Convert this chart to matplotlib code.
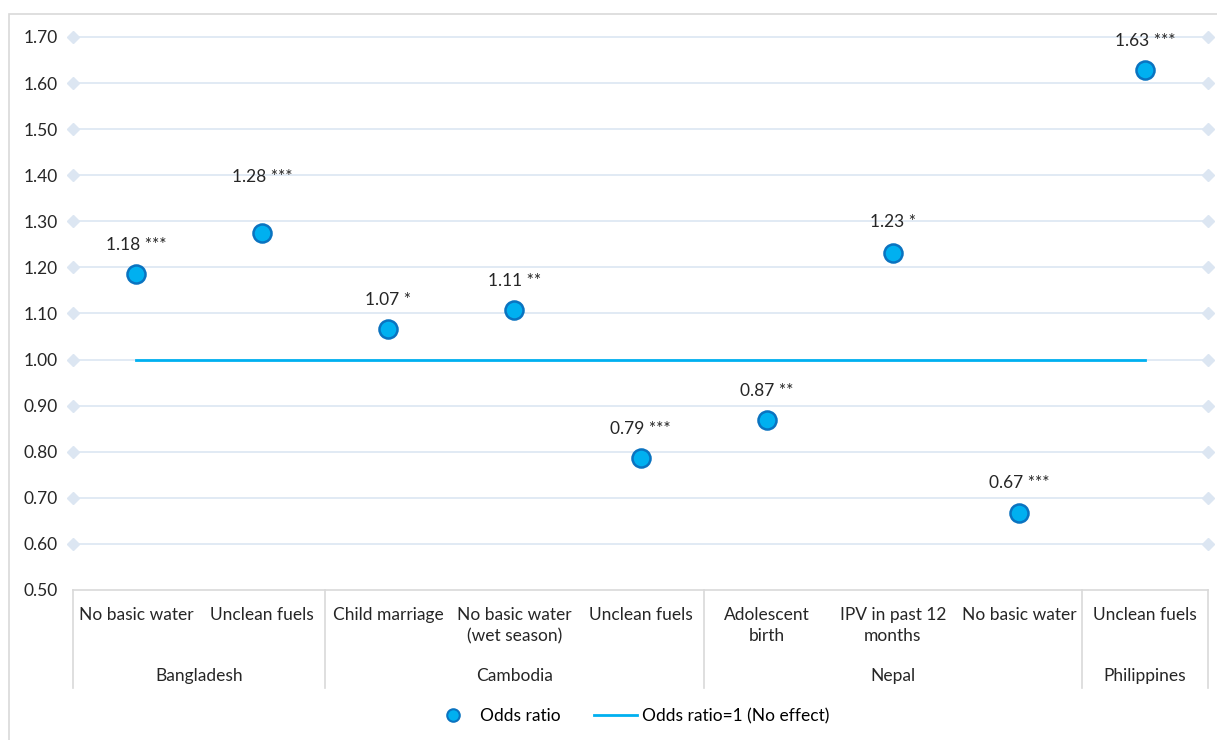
import numpy as np
import matplotlib.pyplot as plt
from matplotlib.patches import Rectangle
from matplotlib.lines import Line2D

plt.rcParams['font.family'] = ['Lato', 'DejaVu Sans']

indicators = [['No basic water'], ['Unclean fuels'],
              ['Child marriage'], ['No basic water', '(wet season)'], ['Unclean fuels'],
              ['Adolescent', 'birth'], ['IPV in past 12', 'months'], ['No basic water'],
              ['Unclean fuels']]
countries = ['Bangladesh', 'Cambodia', 'Nepal', 'Philippines']
country_sizes = [2, 3, 3, 1]
odds = [1.185, 1.275, 1.067, 1.107, 0.787, 0.869, 1.232, 0.668, 1.628]
labels = ['1.18 ***', '1.28 ***', '1.07 *', '1.11 **', '0.79 ***',
          '0.87 **', '1.23 *', '0.67 ***', '1.63 ***']
yticks = [0.5, 0.6, 0.7, 0.8, 0.9, 1.0, 1.1, 1.2, 1.3, 1.4, 1.5, 1.6, 1.7]

fig = plt.figure(figsize=(12.17, 7.40), dpi=100)
ax = fig.add_axes([73/1217, 1-590/740, (1208-73)/1217, (590-37)/740])

x = np.arange(len(odds))
ax.set_xlim(-0.5, len(odds) - 0.5)
ax.set_ylim(0.5, 1.7)

grid_c = '#DCE6F2'
for v in yticks[1:]:
    ax.plot([-0.5, len(odds) - 0.5], [v, v], color=grid_c, lw=1.2, marker='D',
            markersize=6, markevery=[0, 1], clip_on=False, zorder=1)

ax.plot([x[0], x[-1]], [1, 1], color='#00B0F0', lw=2, zorder=2)
ax.plot(x, odds, 'o', ms=13, mfc='#00B0F0', mec='#0A73C0', mew=1.8, zorder=3)
# label 1.28 sits higher in the original
offsets = [21, 40, 21, 21, 21, 21, 22, 21, 21]
for xi, v, t, off in zip(x, odds, labels, offsets):
    ax.annotate(t, (xi, v), xytext=(0, off), textcoords='offset points',
                ha='center', va='center', fontsize=12.5, color='#262626')

ax.set_yticks(yticks)
ax.set_yticklabels(['%.2f' % v for v in yticks], fontsize=12.5, color='#262626')
ax.tick_params(axis='y', length=0, pad=11)
ax.set_xticks([])
for s in ax.spines.values():
    s.set_visible(False)

# category table below the axis
tr = ax.get_xaxis_transform()
box_c = '#D9D9D9'
ax.plot([-0.5, len(odds) - 0.5], [0, 0], color=box_c, lw=1.2, transform=tr, clip_on=False)
edges = np.concatenate([[0], np.cumsum(country_sizes)]) - 0.5
for e in edges:
    ax.plot([e, e], [0, -0.177], color=box_c, lw=1.2, transform=tr, clip_on=False)
for xi, lines in zip(x, indicators):
    ax.text(xi, -0.030, '\n'.join(lines), transform=tr, ha='center', va='top',
            fontsize=12.5, color='#262626', linespacing=1.4)
for i, c in enumerate(countries):
    ax.text((edges[i] + edges[i+1]) / 2, -0.155, c, transform=tr, ha='center',
            va='center', fontsize=12.5, color='#262626')

handles = [Line2D([], [], ls='none', marker='o', ms=9, mfc='#00B0F0', mec='#0A73C0', mew=1.5),
           Line2D([], [], color='#00B0F0', lw=2)]
fig.legend(handles, ['Odds ratio', 'Odds ratio=1 (No effect)'], loc='center',
           bbox_to_anchor=(0.518, 1-716/740), ncol=2, frameon=False, fontsize=12.5,
           handlelength=2.5, columnspacing=1.9, handletextpad=0.3)

fig.patches.append(Rectangle((9/1217, -0.01), 1.0, 1-14/740+0.01, transform=fig.transFigure,
                             fill=False, ec=box_c, lw=1.2))

plt.savefig('out.png', dpi=100)
